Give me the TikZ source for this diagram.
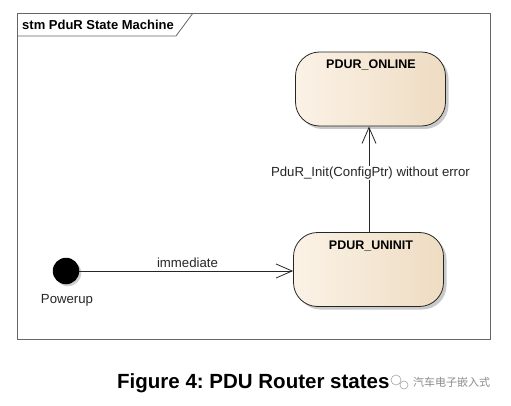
\documentclass[tikz,border=0pt]{standalone}
\usepackage{fontspec}
\setmainfont{Liberation Sans}
\newfontfamily\cjk{Noto Sans CJK SC}
\usetikzlibrary{arrows.meta,shadows,positioning}
\frenchspacing
\definecolor{stl}{HTML}{FBF2E6}
\definecolor{str}{HTML}{EEDCC2}
\tikzset{
  statebox/.style={draw=black!85, line width=0.8pt, rounded corners=24pt,
    left color=stl, right color=str,
    drop shadow={shadow xshift=3pt, shadow yshift=-3pt, opacity=0.35, fill=black!60},
    minimum width=150pt, minimum height=74pt, inner sep=0pt},
  statelabel/.style={font=\fontsize{12.5}{14}\selectfont\bfseries},
  trans/.style={draw=black!85, line width=0.8pt, -{Straight Barb[length=16pt,width=14pt,line width=0.8pt]}},
  lbl/.style={font=\fontsize{13.2}{15}\selectfont, text=black!85, inner sep=0pt},
}
\begin{document}
\begin{tikzpicture}[x=1pt,y=-1pt]
  \useasboundingbox (0,0) rectangle (511,406);
  \fill[white] (0,0) rectangle (511,406);
  % frame
  \draw[black!60, line width=0.8pt] (17,13) rectangle (490,339);
  \draw[black!60, line width=0.8pt] (17,36) -- (176,36) -- (193,13);
  \node[anchor=west, font=\fontsize{13}{15}\selectfont\bfseries, inner sep=0pt] (title) at (22,24.5) {stm PduR State Machine};
  % states
  \node[statebox] (online) at (370.5,89) {};
  \node[statelabel, anchor=center] (onlinet) at (371,65) {PDUR\_ONLINE};
  \node[statebox] (uninit) at (368.5,269.5) {};
  \node[statelabel, anchor=center] (uninitt) at (371,246) {PDUR\_UNINIT};
  % initial
  \node[circle, fill=black, minimum size=26.5pt, inner sep=0pt,
    drop shadow={shadow xshift=2pt, shadow yshift=-2pt, opacity=0.3, fill=black!60}] (init) at (66,271) {};
  \node[lbl] (pw) at (67,300) {Powerup};
  % transitions
  \draw[trans] (init.east) -- (uninit.west |- init.east);
  \node[lbl] (imm) at (187.5,263) {immediate};
  \draw[trans] (369,232) coordinate (us) -- (369,126.5) coordinate (os);
  \node[lbl, fill=white, inner ysep=1pt] (cond) at (370.5,173) {PduR\_Init(ConfigPtr) without error};
  % caption
  \node[anchor=west, font=\fontsize{20.5}{23}\selectfont\bfseries, inner sep=0pt] (cap) at (117,383) {Figure 4: PDU Router states};
  % watermark
  \draw[black!35, line width=0.6pt] (396,380) circle (5pt);
  \draw[black!35, line width=0.6pt] (404,385) circle (4pt);
  \node[anchor=west, font=\cjk\fontsize{11}{13}\selectfont, text=black!45, inner sep=0pt] (wm) at (413,382) {汽车电子嵌入式};
\end{tikzpicture}
\end{document}
